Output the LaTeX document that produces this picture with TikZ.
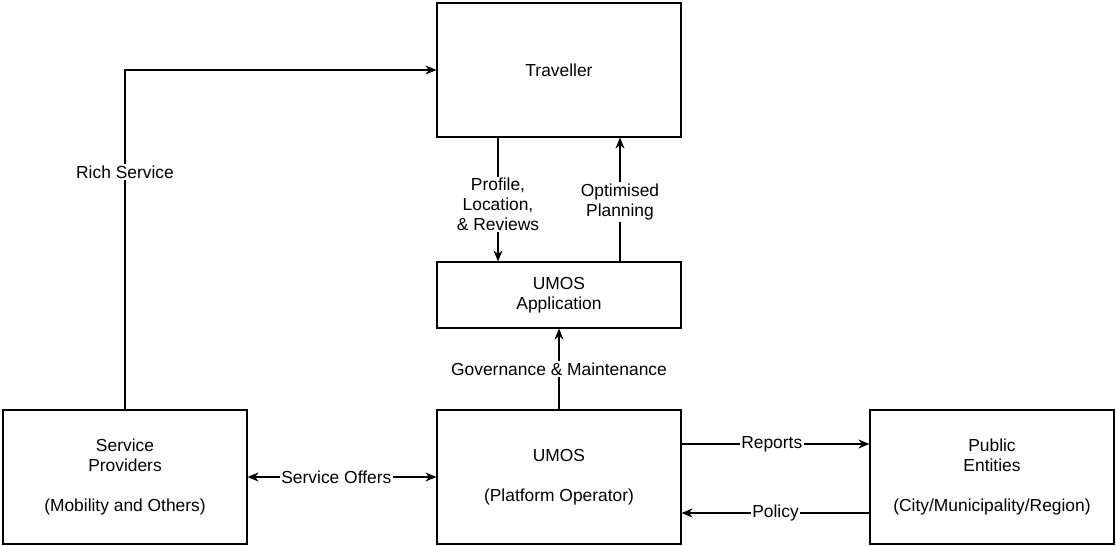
\documentclass[tikz,border=0pt]{standalone}
\usepackage{fontspec}
\setmainfont{Liberation Sans}
\usetikzlibrary{arrows.meta}
\tikzset{
  box/.style={draw, line width=1.2pt, minimum width=244pt, align=center, inner sep=0pt},
  lbl/.style={fill=white, align=center, inner sep=1.5pt},
  flow/.style={line width=1.1pt, -{Stealth[length=11pt,width=9pt]}}
}
\begin{document}
\begin{tikzpicture}[x=1pt, y=-1pt, font=\fontsize{17.4}{20}\selectfont]
    \useasboundingbox (0,0) rectangle (1117,546);
    \node[box, minimum height=134pt] (trav) at (559,70) {Traveller};
    \node[box, minimum height=66pt] (app) at (559,295) {UMOS\\Application};
    \node[box, minimum height=134pt] (sp) at (125,477) {Service\\Providers\\[20pt](Mobility and Others)};
    \node[box, minimum height=134pt] (umos) at (559,477) {UMOS\\[20pt](Platform Operator)};
    \node[box, minimum height=134pt] (pub) at (992,477) {Public\\Entities\\[20pt](City/Municipality/Region)};

    \coordinate (bend) at (sp.north |- trav.west);
    \draw[flow] (sp.north) -- node[lbl, pos=0.70] {Rich Service} (bend) -- (trav.west);

    \draw[flow] ([xshift=-61pt]trav.south) -- node[lbl, pos=0.54] {Profile,\\Location,\\\& Reviews} ([xshift=-61pt]app.north);
    \draw[flow] ([xshift=61pt]app.north) -- node[lbl, pos=0.48] {Optimised\\Planning} ([xshift=61pt]trav.south);
    \draw[flow] (umos.north) -- node[lbl] {Governance \& Maintenance} (app.south);

    \draw[flow, {Stealth[length=11pt,width=9pt]}-{Stealth[length=11pt,width=9pt]}] (sp.east) -- node[lbl, pos=0.47] {Service Offers} (umos.west);
    \draw[flow] ([yshift=33pt]umos.east) -- node[lbl, pos=0.48] {Reports} ([yshift=33pt]pub.west);
    \draw[flow] ([yshift=-36pt]pub.west) -- node[lbl] {Policy} ([yshift=-36pt]umos.east);
\end{tikzpicture}
\end{document}
